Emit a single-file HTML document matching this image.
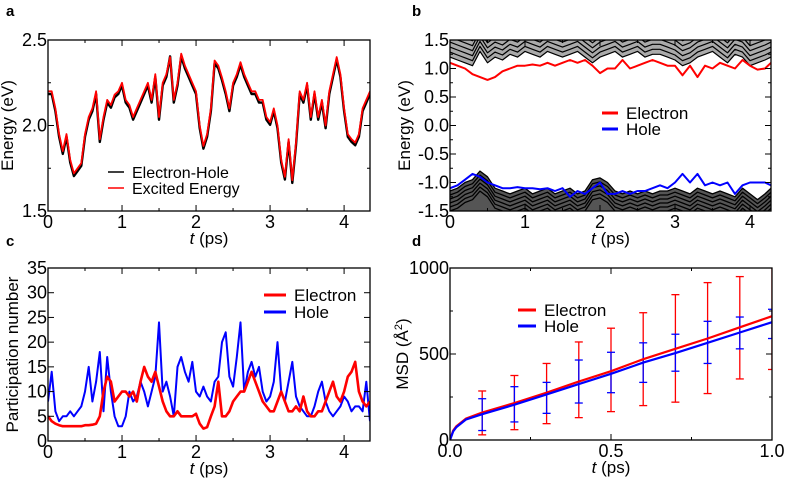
<!DOCTYPE html>
<html><head><meta charset="utf-8"><style>
body{margin:0;background:#fff;}
svg{display:block;font-family:"Liberation Sans",sans-serif;}
</style></head><body>
<svg id="fig" width="787" height="479" viewBox="0 0 787 479"></svg>
<script>
// ---- Panel a data ----
const aTimes = [0,0.05,0.1,0.15,0.2,0.25,0.3,0.35,0.4,0.45,0.5,0.55,0.6,0.65,0.7,0.75,0.8,0.85,0.9,0.95,1.0,1.05,1.1,1.15,1.2,1.25,1.3,1.35,1.4,1.45,1.5,1.55,1.6,1.65,1.7,1.75,1.8,1.85,1.9,1.95,2.0,2.05,2.1,2.15,2.2,2.25,2.3,2.35,2.4,2.45,2.5,2.55,2.6,2.65,2.7,2.75,2.8,2.85,2.9,2.95,3.0,3.05,3.1,3.15,3.2,3.25,3.3,3.35,3.4,3.45,3.5,3.55,3.6,3.65,3.7,3.75,3.8,3.85,3.9,3.95,4.0,4.05,4.1,4.15,4.2,4.25,4.3,4.35];
const aExcited = [2.2,2.2,2.1,1.95,1.85,1.95,1.8,1.72,1.75,1.78,1.95,2.05,2.1,2.2,1.92,2.05,2.15,2.12,2.18,2.2,2.25,2.15,2.12,2.05,2.1,2.15,2.2,2.25,2.15,2.3,2.05,2.25,2.3,2.4,2.15,2.25,2.42,2.35,2.3,2.25,2.2,2.0,1.88,1.95,2.1,2.38,2.35,2.28,2.2,2.1,2.25,2.3,2.37,2.3,2.25,2.2,2.2,2.15,2.15,2.05,2.02,2.1,2.0,1.8,1.7,1.92,1.68,1.9,2.2,2.15,2.25,2.05,2.2,2.05,2.15,2.0,2.2,2.3,2.4,2.3,2.1,1.95,1.92,1.9,1.95,2.1,2.15,2.2];
const aEH = [2.19,2.19,2.09,1.94,1.84,1.94,1.79,1.71,1.74,1.77,1.94,2.04,2.09,2.19,1.91,2.04,2.14,2.11,2.17,2.19,2.24,2.14,2.11,2.04,2.09,2.14,2.19,2.24,2.14,2.29,2.04,2.24,2.29,2.41,2.14,2.24,2.41,2.34,2.29,2.24,2.19,1.99,1.87,1.94,2.09,2.37,2.34,2.27,2.19,2.09,2.24,2.29,2.36,2.29,2.24,2.19,2.19,2.14,2.14,2.04,2.01,2.09,1.99,1.79,1.69,1.91,1.67,1.89,2.19,2.14,2.24,2.04,2.19,2.04,2.14,1.99,2.19,2.29,2.39,2.29,2.09,1.94,1.91,1.89,1.94,2.09,2.14,2.19];
// ---- Panel b data ----
const bTimes = [0,0.1,0.2,0.3,0.4,0.5,0.6,0.7,0.8,0.9,1.0,1.1,1.2,1.3,1.4,1.5,1.6,1.7,1.8,1.9,2.0,2.1,2.2,2.3,2.4,2.5,2.6,2.7,2.8,2.9,3.0,3.1,3.2,3.3,3.4,3.5,3.6,3.7,3.8,3.9,4.0,4.1,4.2,4.28];
const bElectron = [1.1,1.05,1.0,0.9,0.85,0.8,0.85,0.95,1.0,1.05,1.05,1.07,1.05,1.1,1.05,1.1,1.15,1.1,1.15,1.05,0.92,1.0,1.0,1.15,1.0,1.05,1.1,1.15,1.1,1.05,1.05,0.88,1.05,0.85,1.05,1.0,1.1,1.05,1.0,1.15,1.05,0.98,1.0,1.1];
const bHole = [-1.1,-1.05,-0.95,-0.85,-0.9,-1.0,-1.05,-1.1,-1.1,-1.08,-1.1,-1.1,-1.12,-1.1,-1.15,-1.1,-1.25,-1.15,-1.2,-1.1,-1.0,-1.2,-1.2,-1.15,-1.2,-1.15,-1.15,-1.1,-1.05,-1.1,-1.0,-0.85,-1.0,-0.85,-1.05,-1.0,-1.05,-1.0,-1.2,-1.05,-1.0,-1.0,-1.0,-1.05];
const bUpperEdge = [1.2,1.15,1.1,1.05,1.3,1.1,1.2,1.15,1.25,1.2,1.3,1.25,1.2,1.3,1.25,1.2,1.25,1.3,1.2,1.1,1.2,1.25,1.3,1.2,1.25,1.3,1.2,1.25,1.25,1.2,1.15,1.05,1.1,1.2,1.25,1.3,1.2,1.1,1.25,1.2,1.05,1.1,1.15,1.2];
const bLowerEdge = [-1.15,-1.1,-1.0,-0.95,-0.8,-0.9,-1.1,-1.15,-1.2,-1.15,-1.1,-1.2,-1.15,-1.1,-1.2,-1.15,-1.1,-1.2,-1.15,-0.95,-0.92,-1.0,-1.15,-1.2,-1.15,-1.2,-1.15,-1.2,-1.15,-1.15,-1.1,-1.15,-1.2,-1.1,-1.15,-1.2,-1.15,-1.2,-1.25,-1.1,-1.2,-1.3,-1.2,-1.1];
// ---- Panel c data ----
const cTimes = aTimes;
const cElectron = [5,4,3.5,3.2,3,3,3,3,3,3,3.2,3.2,3.3,3.5,5,10,13,12,8,9,10,10,9,10,8,12,15,13,12,14,11,8,6,5,5,6,5,5,5,5,5.5,3.5,2.5,2.8,5,7,12,5,5,6,8,9,10,10,12,14,12,10,8,7,6,6,8,10,8,6,6,7,6,9,6,5,5,6,6,8,10,12,9,8,10,13,14,16,10,8,7,8];
const cHole = [8,14,6,4,5,5,6,5,6,7,10,15,8,12,18,6,17,10,5,3,3,5,10,8,9,12,10,7,10,13,24,10,12,9,5,15,17,14,12,16,10,9,11,9,8,12,13,20,22,13,11,17,24,10,14,16,13,15,10,8,9,12,20,10,8,12,16,9,7,6,5,5,7,10,12,8,6,5,6,7,9,8,6,7,7,6,12,4];
// ---- Panel d data ----
const dTimes = [0,0.01,0.02,0.05,0.1,0.2,0.3,0.4,0.5,0.6,0.7,0.8,0.9,1.0];
const dElectron = [0,55,80,125,160,215,275,340,400,470,530,590,655,720];
const dHole = [0,50,75,120,150,205,265,325,385,450,505,565,625,685];
const dErrTimes = [0.1,0.2,0.3,0.4,0.5,0.6,0.7,0.8,0.9,1.0];
const dElecLow = [30,60,95,130,165,200,220,270,355,410];
const dElecHigh = [285,375,445,570,650,740,845,915,950,1030];
const dHoleLow = [55,105,155,215,275,335,400,445,530,590];
const dHoleHigh = [240,310,335,465,510,565,615,690,715,760];

const NS="http://www.w3.org/2000/svg";
const svg=document.getElementById('fig');
function el(tag,attrs,parent){const e=document.createElementNS(NS,tag);for(const k in attrs)e.setAttribute(k,attrs[k]);(parent||svg).appendChild(e);return e;}
function txt(s,attrs,parent){const e=el('text',attrs,parent);e.textContent=s;return e;}

function panel(o){
  const g=el('g',{});
  
  
  const sx=v=>o.x0+(v-o.xmin)/(o.xmax-o.xmin)*(o.x1-o.x0);
  const sy=v=>o.y1-(v-o.ymin)/(o.ymax-o.ymin)*(o.y1-o.y0);
  const clipId='clip'+o.name;
  const cp=el('clipPath',{id:clipId},g);
  el('rect',{x:o.x0,y:o.y0,width:o.x1-o.x0,height:o.y1-o.y0},cp);
  const plot=el('g',{'clip-path':'url(#'+clipId+')'},g);
  const tk=el('g',{stroke:'#000','stroke-width':1},g);
  
  
  for(let v=o.xmin;v<=o.xmax+1e-9;v+=o.xminor){
    const maj=Math.abs(v/o.xmajor-Math.round(v/o.xmajor))<1e-6;const L=maj?6:3;const X=sx(v);
    el('line',{x1:X,x2:X,y1:o.y1,y2:o.y1-L},tk);el('line',{x1:X,x2:X,y1:o.y0,y2:o.y0+L},tk);
  }
  for(let v=o.ymin;v<=o.ymax+1e-9;v+=o.yminor){
    const maj=Math.abs(v/o.ymajor-Math.round(v/o.ymajor))<1e-6;const L=maj?6:3;const Y=sy(v);
    el('line',{x1:o.x0,x2:o.x0+L,y1:Y,y2:Y},tk);el('line',{x1:o.x1,x2:o.x1-L,y1:Y,y2:Y},tk);
  }
  o.xlabels.forEach(l=>{const t=txt(l,{x:sx(parseFloat(l)),y:o.y1+17,'font-size':18,'text-anchor':'middle'},g);
    });
  o.ylabels.forEach(l=>{const t=txt(l,{x:o.x0-1,y:sy(parseFloat(l))+6,'font-size':18,'text-anchor':'end'},g);
    });
  const xt=el('text',{x:(o.x0+o.x1)/2,y:o.y1+33,'font-size':17,'text-anchor':'middle'},g);
  xt.innerHTML='<tspan font-style="italic">t</tspan> (ps)';
  
  const yt=el('text',{transform:`translate(${o.x0-o.ylabOff},${(o.y0+o.y1)/2}) rotate(-90)`,'font-size':17,'text-anchor':'middle'},g);
  yt.innerHTML=o.ytitle;
  
  const lt=txt(o.letter,{x:o.lx,y:o.ly,'font-size':15,'font-weight':'bold'},g);
  
  const fr=el('rect',{x:o.x0,y:o.y0,width:o.x1-o.x0,height:o.y1-o.y0,fill:'none',stroke:'#000','stroke-width':1.3},g);
  
  return {g,plot,sx,sy};
}
function line(p,xs,ys,color,w,name,dy){
  const d=xs.map((x,i)=>(i?'L':'M')+p.sx(x).toFixed(1)+','+(p.sy(ys[i])+(dy||0)).toFixed(1)).join('');
  const e=el('path',{d,fill:'none',stroke:color,'stroke-width':w,'stroke-linejoin':'round'},p.plot);
  return e;
}
function legend(g,x,y,items,fs,gap){
  const lg=el('g',{},g);
  items.forEach((it,i)=>{const yy=y+i*gap;
    const l=el('line',{x1:x,x2:x+it[3],y1:yy,y2:yy,stroke:it[1],'stroke-width':it[2]},lg);
    
    const t=txt(it[0],{x:x+it[3]+8,y:yy+6,'font-size':fs},lg);
    });
}

// Panel a
const pa=panel({name:'panel-a',x0:48,x1:370,y0:40,y1:211,xmin:0,xmax:4.35,ymin:1.5,ymax:2.5,xmajor:1,xminor:0.5,ymajor:0.5,yminor:0.25,
  xlabels:['0','1','2','3','4'],ylabels:['1.5','2.0','2.5'],ytitle:'Energy (eV)',ylabOff:35,letter:'a',lx:6,ly:16});
line(pa,aTimes,aEH,'#000',2.4,'electron-hole-line',1);
line(pa,aTimes,aExcited,'#f00',1.8,'excited-energy-line');
legend(pa.g,108,172,[['Electron-Hole','#000',1.5,16],['Excited Energy','#f00',1.5,16]],16,16);

// Panel b
const pb=panel({name:'panel-b',x0:450,x1:771,y0:40,y1:211,xmin:0,xmax:4.28,ymin:-1.5,ymax:1.5,xmajor:1,xminor:0.5,ymajor:0.5,yminor:0.25,
  xlabels:['0','1','2','3','4'],ylabels:['-1.5','-1.0','-0.5','0.0','0.5','1.0','1.5'],ytitle:'Energy (eV)',ylabOff:40,letter:'b',lx:412,ly:16});
{
  const up='M'+pb.sx(0)+','+pb.sy(1.6)+bTimes.map((t,i)=>'L'+pb.sx(t).toFixed(1)+','+pb.sy(bUpperEdge[i]).toFixed(1)).join('')+'L'+pb.sx(4.28)+','+pb.sy(1.6)+'Z';
  const u=el('path',{d:up,fill:'#aaa'},pb.plot);
  const lo='M'+pb.sx(0)+','+pb.sy(-1.6)+bTimes.map((t,i)=>'L'+pb.sx(t).toFixed(1)+','+pb.sy(bLowerEdge[i]).toFixed(1)).join('')+'L'+pb.sx(4.28)+','+pb.sy(-1.6)+'Z';
  const l=el('path',{d:lo,fill:'#555'},pb.plot);
  [0,-5,-10,-15,-20,-25].forEach(o=>line(pb,bTimes,bUpperEdge,'#000',1.2,'conduction-state-line',o));
  [0,4,8,12,16,20].forEach(o=>line(pb,bTimes,bLowerEdge,'#000',1.3,'valence-state-line',o));
}
line(pb,bTimes,bElectron,'#f00',2,'electron-level-line');
line(pb,bTimes,bHole,'#00f',2,'hole-level-line');
legend(pb.g,602,113,[['Electron','#f00',3,16],['Hole','#00f',3,16]],17,16);

// Panel c
const pc=panel({name:'panel-c',x0:48,x1:370,y0:268,y1:441,xmin:0,xmax:4.35,ymin:0,ymax:35,xmajor:1,xminor:0.5,ymajor:5,yminor:5,
  xlabels:['0','1','2','3','4'],ylabels:['0','5','10','15','20','25','30','35'],ytitle:'Participation number',ylabOff:30,letter:'c',lx:6,ly:246});
line(pc,cTimes,cHole,'#00f',2,'hole-participation-line');
line(pc,cTimes,cElectron,'#f00',2.6,'electron-participation-line');
legend(pc.g,264,295,[['Electron','#f00',3,22],['Hole','#00f',3,22]],17,17);

// Panel d
const pd=panel({name:'panel-d',x0:450,x1:772,y0:268,y1:440,xmin:0,xmax:1,ymin:0,ymax:1000,xmajor:0.5,xminor:0.25,ymajor:500,yminor:250,
  xlabels:['0.0','0.5','1.0'],ylabels:['0','500','1000'],ytitle:'MSD (Å<tspan baseline-shift="super" font-size="11">2</tspan>)',ylabOff:42,letter:'d',lx:412,ly:246});
function errbars(lows,highs,color,name){
  dErrTimes.forEach((t,i)=>{const X=pd.sx(t);const g=el('g',{stroke:color,'stroke-width':1.3},pd.plot);
    
    el('line',{x1:X,x2:X,y1:pd.sy(lows[i]),y2:pd.sy(highs[i])},g);
    el('line',{x1:X-4,x2:X+4,y1:pd.sy(lows[i]),y2:pd.sy(lows[i])},g);
    el('line',{x1:X-4,x2:X+4,y1:pd.sy(highs[i]),y2:pd.sy(highs[i])},g);});
}
errbars(dElecLow,dElecHigh,'#f00','electron-error-bar');
errbars(dHoleLow,dHoleHigh,'#00f','hole-error-bar');
line(pd,dTimes,dElectron,'#f00',2.2,'electron-msd-line');
line(pd,dTimes,dHole,'#00f',2.2,'hole-msd-line');
legend(pd.g,518,310,[['Electron','#f00',3,18],['Hole','#00f',3,18]],17,16);
</script>
</body></html>
